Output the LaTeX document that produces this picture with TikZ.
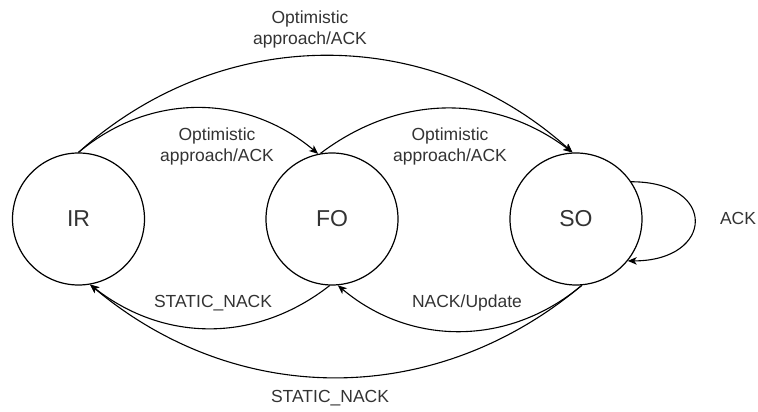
\documentclass[tikz,border=0pt]{standalone}
\usepackage{fontspec}
\setmainfont{Liberation Sans}
\usetikzlibrary{arrows.meta}

\begin{document}
\begin{tikzpicture}[
    x=1pt, y=1pt,
    font=\fontsize{17.5}{21}\selectfont,
    >={Stealth[length=9pt, width=7.5pt, inset=2.5pt]},
    state/.style={circle, draw=black, line width=1.2pt, minimum size=132pt, inner sep=0pt, text=black!80, font=\fontsize{23}{27}\selectfont},
    trans/.style={->, line width=1.1pt, draw=black},
    lbl/.style={align=center, text=black!80, inner sep=0pt}
  ]
  \useasboundingbox (0,0) rectangle (758,412);

  % States
  \node[state] (ir) at (78.5,193) {IR};
  \node[state] (fo) at (332,193) {FO};
  \node[state] (so) at (576,193) {SO};

  % Forward transitions (top)
  \draw[trans] (ir.90) to[out=40, in=140] (fo.102);
  \draw[trans] (ir.90) to[out=42, in=138] (so.93);
  \draw[trans] (fo.100) to[out=37, in=143] (so.93);

  % Backward transitions (bottom)
  \draw[trans] (so.275) to[out=220, in=320] (fo.275);
  \draw[trans] (fo.268) to[out=218, in=322] (ir.280);
  \draw[trans] (so.275) to[out=220, in=320] (ir.280);

  % Self loop
  \draw[trans] (so.34) to[out=0, in=0, looseness=2.8] (so.-39);

  % Labels
  \node[lbl] (l-top) at (310,383) {Optimistic\\approach/ACK};
  \node[lbl] (l-irfo) at (217,266) {Optimistic\\approach/ACK};
  \node[lbl] (l-foso) at (450,266) {Optimistic\\approach/ACK};
  \node[lbl] (l-nack) at (213,109) {STATIC\_NACK};
  \node[lbl] (l-upd) at (467,109) {NACK/Update};
  \node[lbl] (l-bot) at (330,14) {STATIC\_NACK};
  \node[lbl] (l-ack) at (738,194) {ACK};

\end{tikzpicture}
\end{document}
